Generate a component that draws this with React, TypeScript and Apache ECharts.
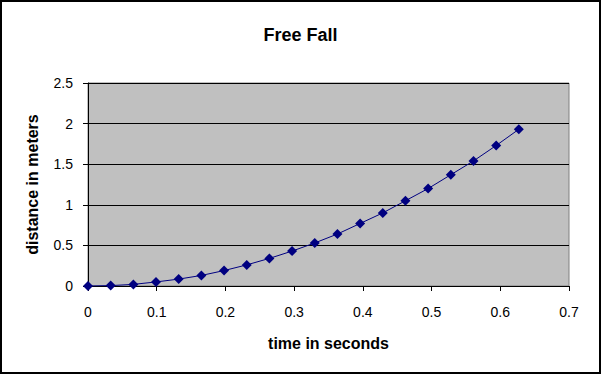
import React, { useEffect, useRef } from "react";
import * as echarts from "echarts";

const timeSeconds = [0, 0.033, 0.066, 0.099, 0.132, 0.165, 0.198, 0.231, 0.264, 0.297, 0.33, 0.363, 0.396, 0.429, 0.462, 0.495, 0.528, 0.561, 0.594, 0.627];
const distanceMeters = [0, 0.005, 0.02, 0.05, 0.085, 0.13, 0.19, 0.26, 0.34, 0.43, 0.53, 0.64, 0.77, 0.9, 1.05, 1.2, 1.37, 1.54, 1.73, 1.93];

const FONT = "'Liberation Sans', Arial, sans-serif";

export default function App() {
  const ref = useRef<HTMLDivElement>(null);
  useEffect(() => {
    document.body.style.margin = "0";
    const chart = echarts.init(ref.current!, null, { renderer: "svg" });
    const data = timeSeconds.map((t, i) => [t, distanceMeters[i]]);
    chart.setOption({
      animation: false,
      backgroundColor: "#ffffff",
      title: {
        text: "Free Fall",
        left: "center",
        top: 21,
        textStyle: { fontFamily: FONT, fontSize: 18, fontWeight: "bold", color: "#000" },
      },
      graphic: [
        {
          type: "rect",
          shape: { x: 1, y: 1, width: 599, height: 372 },
          style: { fill: "none", stroke: "#000", lineWidth: 2 },
          silent: true,
        },
      ],
      grid: {
        left: 88,
        right: 32,
        top: 83,
        bottom: 89,
        show: true,
        backgroundColor: "#C0C0C0",
        borderColor: "#808080",
        borderWidth: 1,
      },
      xAxis: {
        type: "value",
        min: 0,
        max: 0.7,
        interval: 0.1,
        name: "time in seconds",
        nameLocation: "middle",
        nameGap: 49,
        nameTextStyle: { fontFamily: FONT, fontSize: 16, fontWeight: "bold", color: "#000" },
        axisLine: { show: true, lineStyle: { color: "#000", width: 1 } },
        axisTick: { show: true, length: 5, lineStyle: { color: "#000" } },
        axisLabel: { margin: 19, fontFamily: FONT, fontSize: 14, color: "#000" },
        splitLine: { show: false },
      },
      yAxis: {
        type: "value",
        min: 0,
        max: 2.5,
        interval: 0.5,
        name: "distance in meters",
        nameLocation: "middle",
        nameGap: 48,
        nameRotate: 90,
        nameTextStyle: { fontFamily: FONT, fontSize: 16, fontWeight: "bold", color: "#000" },
        axisLine: { show: true, lineStyle: { color: "#000", width: 1 } },
        axisTick: { show: true, length: 5, lineStyle: { color: "#000" } },
        axisLabel: { margin: 15, fontFamily: FONT, fontSize: 14, color: "#000" },
        splitLine: { show: true, lineStyle: { color: "#000", width: 1 } },
      },
      series: [
        {
          type: "line",
          data,
          symbol: "diamond",
          symbolSize: 10,
          itemStyle: { color: "#000080" },
          lineStyle: { color: "#000080", width: 1 },
        },
      ],
    });
    return () => chart.dispose();
  }, []);
  return <div ref={ref} style={{ width: 601, height: 375 }} />;
}
